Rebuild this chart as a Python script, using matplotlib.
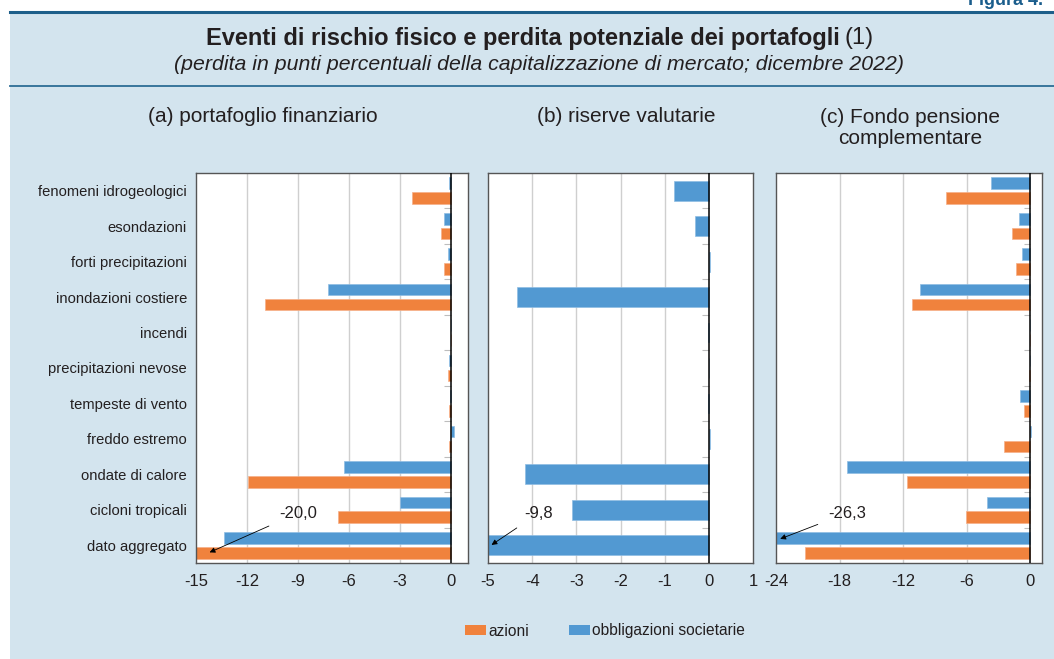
import numpy as np
from matplotlib import pyplot as plt
from matplotlib.patches import Rectangle, Patch
from matplotlib.lines import Line2D

# --- dati ---
categorie = ["fenomeni idrogeologici", "esondazioni", "forti precipitazioni",
             "inondazioni costiere", "incendi", "precipitazioni nevose",
             "tempeste di vento", "freddo estremo", "ondate di calore",
             "cicloni tropicali", "dato aggregato"]

# (a) portafoglio finanziario
a_azioni = [-2.3, -0.6, -0.43, -10.95, 0.0, -0.15, -0.1, -0.1, -11.95, -6.65, -20.0]
a_obblig = [-0.1, -0.4, -0.15, -7.25, 0.0, -0.1, -0.05, 0.15, -6.3, -3.0, -13.35]

# (b) riserve valutarie (solo obbligazioni)
b_obblig = [-0.8, -0.31, 0.03, -4.35, -0.02, 0.0, -0.03, 0.03, -4.17, -3.09, -9.8]

# (c) fondo pensione complementare
c_azioni = [-8.0, -1.7, -1.35, -11.2, 0.0, -0.1, -0.6, -2.5, -11.65, -6.1, -21.3]
c_obblig = [-3.75, -1.1, -0.8, -10.45, 0.0, -0.05, -0.95, 0.05, -17.3, -4.05, -26.3]

etichette_val = ["-20,0", "-9,8", "-26,3"]

ARANCIO = "#f0823d"
BLU = "#5299d2"
SFONDO = "#d3e4ee"
BLU_SCURO = "#1d5f8a"
TESTO = "#231f20"

plt.rcParams['font.family'] = ['Liberation Sans', 'DejaVu Sans']

fig = plt.figure(figsize=(10.54, 6.59), dpi=100)
fig.patch.set_facecolor("white")
W, H = 1054, 659

def fx(px):
    return px / W

def fy(py):
    return 1 - py / H

# sfondo azzurro e linee
fig.add_artist(Rectangle((fx(10), 0), 1 - fx(10), fy(12), transform=fig.transFigure,
                         facecolor=SFONDO, edgecolor="none", zorder=-10))
fig.add_artist(Line2D([fx(10), 1], [fy(12), fy(12)], transform=fig.transFigure,
                      color=BLU_SCURO, lw=2.2))
fig.add_artist(Line2D([fx(10), 1], [fy(86), fy(86)], transform=fig.transFigure,
                      color="#2c6d95", lw=1.3))
# nel riferimento l'etichetta "Figura 4." è tagliata dal bordo superiore
fig.text(fx(968), fy(5), "Figura 4.", color="#1a5d8c", fontsize=13, fontweight="bold",
         ha="left", va="baseline")

# titolo: parte in grassetto + "(1)" normale
t1 = fig.text(fx(200), fy(38), "Eventi di rischio fisico e perdita potenziale dei portafogli",
              fontsize=17, fontweight="bold", color=TESTO, ha="left", va="center")
t2 = fig.text(fx(800), fy(38), "(1)", fontsize=17, color=TESTO, ha="left", va="center")
fig.canvas.draw()
bb1 = t1.get_window_extent()
bb2 = t2.get_window_extent()
larg_tot = bb1.width + 5 + bb2.width
x0 = 540 - larg_tot / 2
t1.set_x(fx(x0))
t2.set_x(fx(x0 + bb1.width + 5))
fig.text(fx(539), fy(65), "(perdita in punti percentuali della capitalizzazione di mercato; dicembre 2022)",
         fontsize=15.3, style="italic", color=TESTO, ha="center", va="center")

# titoli dei pannelli
fig.text(fx(263), fy(117), "(a) portafoglio finanziario", fontsize=15, color=TESTO, ha="center", va="center")
fig.text(fx(626), fy(117), "(b) riserve valutarie", fontsize=15, color=TESTO, ha="center", va="center")
fig.text(fx(910), fy(128), "(c) Fondo pensione\ncomplementare", fontsize=15, color=TESTO,
         ha="center", va="center", linespacing=1.1)

bottom = fy(563)
altezza = fy(173) - bottom
ax_a = fig.add_axes([fx(196), bottom, fx(468 - 196), altezza])
ax_b = fig.add_axes([fx(488), bottom, fx(753 - 488), altezza])
ax_c = fig.add_axes([fx(776), bottom, fx(1042 - 776), altezza])

y = np.arange(len(categorie))
h = 0.33
off = 0.21


def stile(ax, xlim, ticks, grid):
    ax.set_xlim(*xlim)
    ax.set_ylim(len(categorie) - 0.5, -0.5)
    ax.set_facecolor("white")
    for g in grid:
        ax.axvline(g, color="#cfcfcf", lw=1, zorder=0)
    ax.axvline(0, color="black", lw=1.1, zorder=3)
    # piccoli segni di separazione delle categorie sull'asse dello zero
    span = xlim[1] - xlim[0]
    ax.hlines(np.arange(len(categorie) - 1) + 0.5, -0.025 * span, 0, color="#bdbdbd", lw=0.8, zorder=1)
    ax.set_xticks(ticks)
    ax.set_xticklabels([str(t) for t in ticks])
    ax.tick_params(axis="x", length=0, labelsize=12, colors=TESTO, pad=8)
    ax.set_yticks([])
    for s in ax.spines.values():
        s.set_color("#555555")
        s.set_linewidth(1)


freccia = dict(arrowstyle="-|>", color="black", lw=0.6, mutation_scale=8, shrinkA=6, shrinkB=0)

# (a)
ax_a.barh(y - off, np.clip(a_obblig, -15, 1), height=h, color=BLU, edgecolor="#8fbde3", lw=0.5, zorder=2)
ax_a.barh(y + off, np.clip(a_azioni, -15, 1), height=h, color=ARANCIO, edgecolor="#f6b08a", lw=0.5, zorder=2)
stile(ax_a, (-15, 1), [-15, -12, -9, -6, -3, 0], [-12, -9, -6, -3])
ax_a.set_yticks(y)
ax_a.set_yticklabels(categorie)
ax_a.tick_params(axis="y", length=0, labelsize=10.6, colors=TESTO, pad=6.5)
ax_a.annotate(etichette_val[0], xy=(-14.2, 10.2), xytext=(-10.1, 9.09), fontsize=12, color=TESTO,
              ha="left", va="center", zorder=5, arrowprops=freccia)

# (b)
ax_b.barh(y, np.clip(b_obblig, -5, 1), height=0.56, color=BLU, edgecolor="#8fbde3", lw=0.5, zorder=2)
stile(ax_b, (-5, 1), [-5, -4, -3, -2, -1, 0, 1], [-4, -3, -2, -1])
ax_b.annotate(etichette_val[1], xy=(-4.92, 9.99), xytext=(-4.17, 9.09), fontsize=12, color=TESTO,
              ha="left", va="center", zorder=5, arrowprops=freccia)

# (c)
ax_c.barh(y - off, np.clip(c_obblig, -24, 1.1), height=h, color=BLU, edgecolor="#8fbde3", lw=0.5, zorder=2)
ax_c.barh(y + off, np.clip(c_azioni, -24, 1.1), height=h, color=ARANCIO, edgecolor="#f6b08a", lw=0.5, zorder=2)
stile(ax_c, (-24, 1.1), [-24, -18, -12, -6, 0], [-18, -12, -6])
ax_c.annotate(etichette_val[2], xy=(-23.6, 9.82), xytext=(-19.06, 9.09), fontsize=12, color=TESTO,
              ha="left", va="center", zorder=5, arrowprops=freccia)

# legenda
handles = [Patch(facecolor=ARANCIO, label="azioni"),
           Patch(facecolor=BLU, label="obbligazioni societarie")]
fig.legend(handles=handles, loc="center", bbox_to_anchor=(fx(605), fy(631)), ncol=2,
           frameon=False, fontsize=11.2, handlelength=1.35, handleheight=0.6,
           handletextpad=0.12, columnspacing=2.6, labelcolor=TESTO)

fig.savefig("out.png", dpi=100, facecolor=fig.get_facecolor())
